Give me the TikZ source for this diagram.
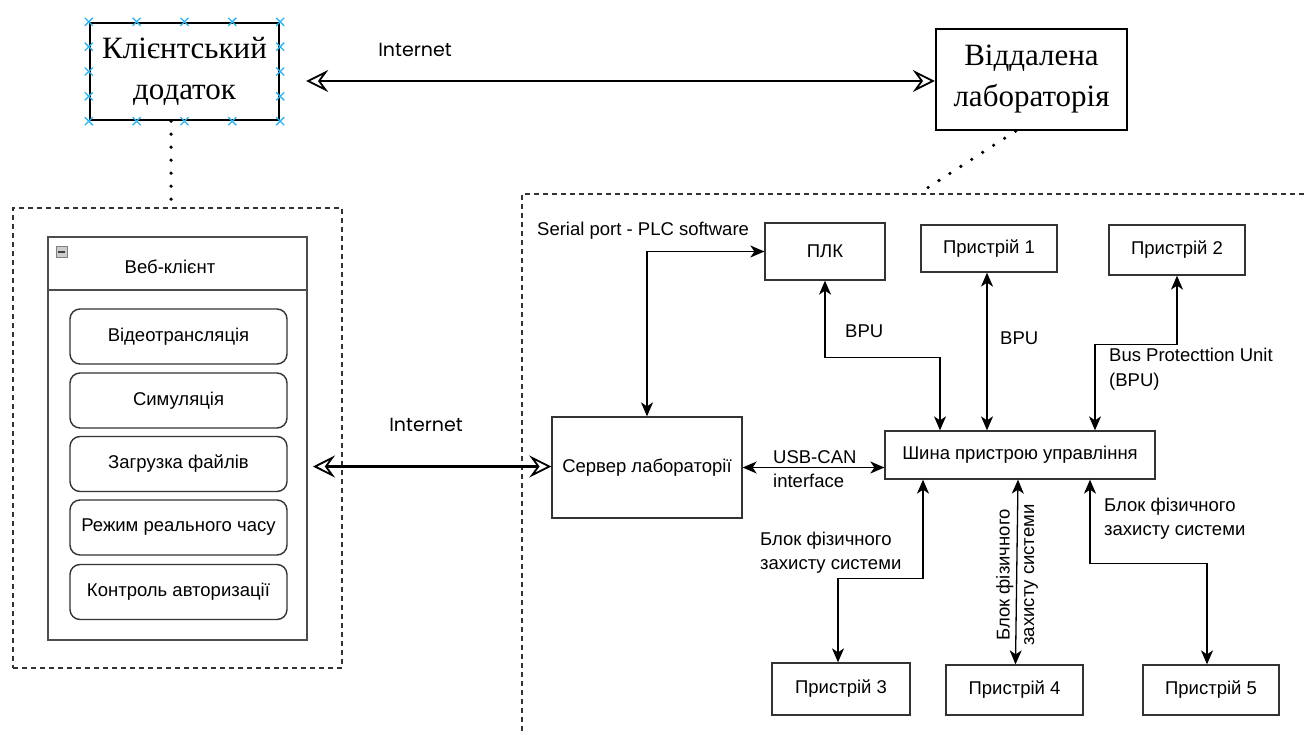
\documentclass[tikz,border=0pt]{standalone}
\usepackage{fontspec}
\setmainfont{Liberation Sans}
\newfontfamily\serifface{Liberation Serif}
\newfontfamily\handface{Poppins}
\usetikzlibrary{arrows.meta,calc}
\definecolor{handle}{HTML}{29B6F2}
\definecolor{edge}{HTML}{333333}
\definecolor{panel}{HTML}{4D4D4D}
\begin{document}
\begin{tikzpicture}[x=1pt,y=-1pt,
  every node/.style={font=\fontsize{18.5}{24.5}\selectfont, inner sep=0pt},
  box/.style={draw=edge, line width=1.3pt, fill=white},
  sketchbox/.style={draw=black, line width=2.4pt, fill=white, align=center,
    font=\serifface\fontsize{31}{41}\selectfont},
  item/.style={draw=edge, line width=1.4pt, rounded corners=10pt,
    minimum width=217pt, minimum height=55pt},
  grp/.style={draw=edge, line width=1.5pt, dash pattern=on 5pt off 4pt},
  dots/.style={line width=3.6pt, line cap=round, dash pattern=on 0pt off 13pt},
  conn/.style={line width=1.3pt,
    arrows={Stealth[length=14pt,width=12pt,inset=4pt]-Stealth[length=14pt,width=12pt,inset=4pt]}},
  net/.style={line width=2.4pt,
    arrows={Stealth[open,length=22pt,width=22pt,inset=8pt,line width=1.8pt]-Stealth[open,length=22pt,width=22pt,inset=8pt,line width=1.8pt]}},
  lbl/.style={align=left, anchor=west},
  hand/.style={font=\handface\fontsize{19}{22}\selectfont}]

\useasboundingbox (0,0) rectangle (1307,733);

% --- top level: client application and remote laboratory ---
\node[sketchbox, minimum width=189pt, minimum height=97pt] (client) at (184.5,71.5)
  {Клієнтський\\додаток};
\node[sketchbox, minimum width=191pt, minimum height=101pt] (remote) at (1031.5,79.5)
  {Віддалена\\лабораторія};

% selection handles around the client box
\foreach \t in {0,0.25,0.5,0.75,1}{
  \foreach \a/\b in {north west/north east, south west/south east}{
    \coordinate (h) at ($(client.\a)!\t!(client.\b)$);
    \draw[handle, line width=1.3pt] ($(h)+(-4,-4)$) -- ($(h)+(4,4)$)
      ($(h)+(-4,4)$) -- ($(h)+(4,-4)$);
  }
}
\foreach \t in {0.25,0.5,0.75}{
  \foreach \a/\b in {north west/south west, north east/south east}{
    \coordinate (h) at ($(client.\a)!\t!(client.\b)$);
    \draw[handle, line width=1.3pt] ($(h)+(-4,-4)$) -- ($(h)+(4,4)$)
      ($(h)+(-4,4)$) -- ($(h)+(4,-4)$);
  }
}

\draw[net] ($(remote.west -| client.east)+(26,1.5)$) -- ($(remote.west)+(0,1.5)$);
\node[hand] (inet1) at (415,50) {Internet};

% --- web client group ---
\node[grp, minimum width=329pt, minimum height=460pt] (leftgrp) at (177.5,438) {};
\node[draw=panel, line width=2pt, fill=white, minimum width=259pt, minimum height=403pt]
  (web) at (177.5,438.5) {};
\draw[panel, line width=1.6pt] (web.west |- 0,290) -- (web.east |- 0,290);
\node[draw=gray, fill=gray!40, minimum size=11pt] (fold) at (61.5,252) {};
\draw[black!75, line width=1.5pt] ($(fold.center)+(-3.5,0)$) -- ($(fold.center)+(3.5,0)$);
\node (webtitle) at (170,267) {Веб-клієнт};

\node[item] (i1) at (178.5,336.5) {Відеотрансляція};
\node[item] (i2) at (178.5,400.5) {Симуляція};
\node[item] (i3) at (178.5,464) {Загрузка файлів};
\node[item] (i4) at (178.5,527.5) {Режим реального часу};
\node[item] (i5) at (178.5,592) {Контроль авторизації};

\draw[dots] ([xshift=-13.5pt]client.south) -- ([xshift=-13.5pt]client.south |- leftgrp.north);

% --- laboratory group ---
\coordinate (rgcorner) at (522,194);
\coordinate (rgjoin) at (918,194);
\draw[grp] (rgcorner |- 0,740) -- (rgcorner) -- (1310,194);
\draw[dots] ([xshift=-16pt]remote.south) -- (rgjoin);

\node[box, minimum width=190pt, minimum height=101pt] (server) at (647,467.5) {Сервер лабораторії};
\node[box, minimum width=120pt, minimum height=57pt] (plc) at (825,251.5) {ПЛК};
\node[box, minimum width=136pt, minimum height=47pt] (dev1) at (989,248.5) {Пристрій 1};
\node[box, minimum width=136pt, minimum height=50pt] (dev2) at (1177,250) {Пристрій 2};
\node[box, minimum width=270pt, minimum height=48pt] (bus) at (1020,455) {Шина пристрою управління};
\node[box, minimum width=138pt, minimum height=52pt] (dev3) at (841,689) {Пристрій 3};
\node[box, minimum width=137pt, minimum height=50pt] (dev4) at (1014.5,690) {Пристрій 4};
\node[box, minimum width=136pt, minimum height=50pt] (dev5) at (1211,690) {Пристрій 5};

\draw[net] ($(web.east |- server.west)+(5,-1)$) -- ($(server.west)+(0,-1)$);
\node[hand] (inet2) at (426,425) {Internet};

% --- connections inside the laboratory ---
\draw[conn] (server.north) |- (plc.west);
\node[lbl] (lserial) at (537,231) {Serial port - PLC software};

\draw[conn] (plc.south) -- ++(0,77) -| ([xshift=-80pt]bus.north);
\node[lbl] (lbpu1) at (845,331) {BPU};

\draw[conn] ([xshift=-2pt]dev1.south) -- ([xshift=-2pt]dev1.south |- bus.north);
\node[lbl] (lbpu2) at (1000,338) {BPU};

\draw[conn] (dev2.south) -- ++(0,69) -| ([xshift=75pt]bus.north);
\node[lbl] (lbpu3) at (1109,369) {Bus Protecttion Unit\\(BPU)};

\draw[conn] (server.east) -- (server.east -| bus.west);
\node[lbl] (lusb) at (773,469) {USB-CAN\\interface};

\draw[conn] ([xshift=-97pt]bus.south) -- ++(0,99) -| ([xshift=-3pt]dev3.north);
\node[lbl] (lphys3) at (760,552.5) {Блок фізичного\\захисту системи};

\draw[conn] ([xshift=-2pt]bus.south) -- ([xshift=1pt]dev4.north);
\node[rotate=90, align=center] (lphys4) at (1017,575) {Блок фізичного\\захисту системи};

\draw[conn] ([xshift=70pt]bus.south) -- ++(0,84) -| ([xshift=-4pt]dev5.north);
\node[lbl] (lphys5) at (1104,518.5) {Блок фізичного\\захисту системи};

\end{tikzpicture}
\end{document}
